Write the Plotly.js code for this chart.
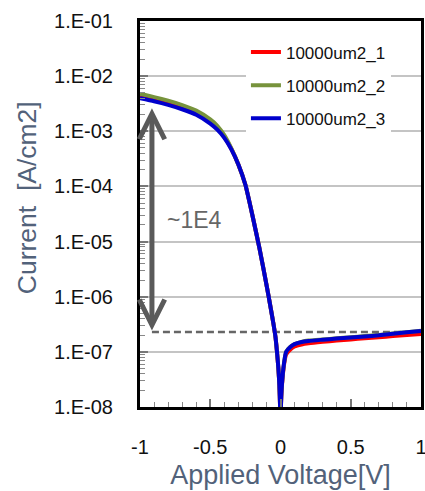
<!DOCTYPE html>
<html><head><meta charset="utf-8">
<script src="https://cdn.plot.ly/plotly-3.0.1.min.js"></script>
<style>html,body{margin:0;padding:0;background:#fff}#chart{width:425px;height:491px}</style>
</head><body><div id="chart"></div>
<script>
// Applied voltage [V]
const voltage = [-1, -0.9, -0.8, -0.7, -0.6, -0.5, -0.45, -0.4, -0.35, -0.3, -0.25, -0.2, -0.15, -0.1, -0.07, -0.05, -0.035, -0.025, -0.015, -0.008, -0.003, 0, 0.003, 0.01, 0.025, 0.04, 0.07, 0.1, 0.15, 0.2, 0.3, 0.4, 0.5, 0.6, 0.7, 0.8, 0.9, 1.0];
// Current density [A/cm2]
const current1 = [4.27e-3, 3.76e-3, 3.24e-3, 2.69e-3, 2.14e-3, 1.48e-3, 1.15e-3, 7.9e-4, 4.8e-4, 2.5e-4, 1.07e-4, 3.0e-5, 7.6e-6, 1.66e-6, 6.3e-7, 3.2e-7, 1.8e-7, 1.0e-7, 5.0e-8, 2.5e-8, 1.0e-8, 1e-9, 1.0e-8, 2.4e-8, 5.8e-8, 9.0e-8, 1.1e-7, 1.25e-7, 1.36e-7, 1.43e-7, 1.52e-7, 1.6e-7, 1.68e-7, 1.76e-7, 1.84e-7, 1.93e-7, 2.02e-7, 2.1e-7];
const current2 = [4.73e-3, 4.17e-3, 3.59e-3, 2.99e-3, 2.37e-3, 1.64e-3, 1.26e-3, 8.5e-4, 4.9e-4, 2.5e-4, 1.07e-4, 3.0e-5, 7.6e-6, 1.66e-6, 6.3e-7, 3.2e-7, 1.8e-7, 1.0e-7, 5.0e-8, 2.5e-8, 1.0e-8, 1e-9, 1.0e-8, 2.5e-8, 6.2e-8, 1.0e-7, 1.24e-7, 1.39e-7, 1.52e-7, 1.6e-7, 1.68e-7, 1.76e-7, 1.84e-7, 1.93e-7, 2.03e-7, 2.16e-7, 2.28e-7, 2.42e-7];
const current3 = [3.98e-3, 3.51e-3, 3.02e-3, 2.51e-3, 2.0e-3, 1.38e-3, 1.07e-3, 7.6e-4, 4.7e-4, 2.5e-4, 1.07e-4, 3.0e-5, 7.6e-6, 1.66e-6, 6.3e-7, 3.2e-7, 1.8e-7, 1.0e-7, 5.0e-8, 2.5e-8, 1.0e-8, 1e-9, 1.0e-8, 2.5e-8, 6.2e-8, 1.0e-7, 1.23e-7, 1.38e-7, 1.51e-7, 1.58e-7, 1.66e-7, 1.74e-7, 1.82e-7, 1.9e-7, 2.0e-7, 2.14e-7, 2.26e-7, 2.4e-7];
const seriesNames = ['10000um2_1', '10000um2_2', '10000um2_3'];
const seriesColors = ['#ff0000', '#77933c', '#0000cc'];
const yTickVals = [1e-8, 1e-7, 1e-6, 1e-5, 1e-4, 1e-3, 1e-2, 1e-1];
const yTickText = ['1.E-08', '1.E-07', '1.E-06', '1.E-05', '1.E-04', '1.E-03', '1.E-02', '1.E-01'];
const xTickVals = [-1, -0.5, 0, 0.5, 1];
const xTickText = ['-1', '-0.5', '0', '0.5', '1'];
const xTitle = 'Applied Voltage[V]';
const yTitle = 'Current  [A/cm2]';
// annotation values
const floorCurrent = 2.3e-7;
const arrowVoltage = -0.915;
const arrowTopCurrent = 2.63e-3;
const ratioLabel = '~1E4';
const ratioLabelVoltage = -0.61;
const ratioLabelCurrent = 2.45e-5;

const FONT = 'Liberation Sans, Arial, sans-serif';
const TITLE_COLOR = '#52627a';
const seriesData = [current1, current2, current3];
const traces = seriesData.map((cur, i) => ({
  x: voltage, y: cur, type: 'scatter', mode: 'lines',
  name: seriesNames[i], legendgroup: 'g' + i,
  line: {color: seriesColors[i], width: 4, shape: 'spline', smoothing: 0.5}
}));

const layout = {
  width: 425, height: 491,
  margin: {l: 140, r: 4, t: 21, b: 84},
  paper_bgcolor: '#fff', plot_bgcolor: '#fff',
  font: {family: FONT, color: '#1a1a1a'},
  showlegend: true,
  legend: {x: 0.377, y: 0.965, xanchor: 'left', yanchor: 'top', bgcolor: '#fff',
           font: {family: FONT, size: 17, color: '#111'}, tracegroupgap: 8},
  xaxis: {
    range: [-1, 1], tickmode: 'array', tickvals: xTickVals, ticktext: xTickText,
    ticks: 'inside', ticklen: 8, tickcolor: '#777', tickwidth: 1.5,
    minor: {dtick: 0.1, ticks: 'inside', ticklen: 5, tickcolor: '#888', tickwidth: 1.3, showgrid: false},
    tickfont: {family: FONT, size: 20, color: '#111'}, ticklabelstandoff: 20,
    ticklabeloverflow: 'allow',
    showline: true, linecolor: '#000', linewidth: 3, mirror: true,
    showgrid: false, zeroline: false,
    title: {text: xTitle, font: {family: FONT, size: 27, color: TITLE_COLOR}, standoff: 9}
  },
  yaxis: {
    type: 'log', range: [-8, -1], tickmode: 'array', tickvals: yTickVals, ticktext: yTickText,
    ticks: 'inside', ticklen: 8, tickcolor: '#777', tickwidth: 1.5,
    minor: {dtick: 'D1', ticks: 'inside', ticklen: 5, tickcolor: '#888', tickwidth: 1.3, showgrid: false},
    tickfont: {family: FONT, size: 20, color: '#111'}, ticklabelstandoff: 20,
    showline: true, linecolor: '#000', linewidth: 3, mirror: true,
    showgrid: true, gridcolor: '#c4c4c4', gridwidth: 1.5, zeroline: false
  },
  shapes: [{
    type: 'line', xref: 'x', yref: 'y', layer: 'between',
    x0: arrowVoltage, x1: 1, y0: floorCurrent, y1: floorCurrent,
    line: {color: '#666', width: 2.5, dash: '7px,4px'}
  }],
  annotations: [{
    xref: 'paper', yref: 'paper', x: -0.402, y: 0.541, xanchor: 'center', yanchor: 'middle',
    text: yTitle, textangle: -90, showarrow: false,
    font: {family: FONT, size: 26.5, color: TITLE_COLOR}
  }, {
    xref: 'x', yref: 'y', axref: 'x', ayref: 'y',
    x: arrowVoltage, y: Math.log10(arrowTopCurrent),
    ax: arrowVoltage, ay: Math.log10(floorCurrent),
    text: '', showarrow: true, arrowside: 'end+start',
    arrowhead: 5, startarrowhead: 5, arrowsize: 1, startarrowsize: 1,
    arrowwidth: 5, arrowcolor: '#5a5a5a', standoff: 0, startstandoff: 0
  }, {
    xref: 'x', yref: 'y', x: ratioLabelVoltage, y: Math.log10(ratioLabelCurrent),
    text: ratioLabel, showarrow: false,
    font: {family: FONT, size: 23, color: '#666'}
  }]
};

Plotly.newPlot('chart', traces, layout, {displayModeBar: false});
</script></body></html>
